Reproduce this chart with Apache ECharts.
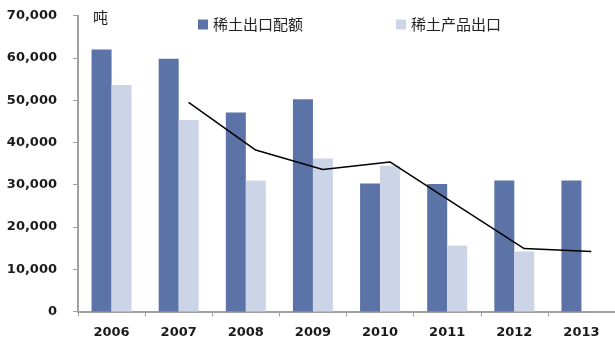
<!DOCTYPE html>
<html>
<head>
<meta charset="utf-8">
<script src="https://cdn.jsdelivr.net/npm/echarts@6/dist/echarts.min.js"></script>
<style>
  html, body { margin: 0; padding: 0; background: #fff; }
  #main { width: 615px; height: 353px; }
</style>
</head>
<body>
<div id="main"></div>
<script>
const years = ['2006', '2007', '2008', '2009', '2010', '2011', '2012', '2013']
const quota = [62000, 59800, 47100, 50200, 30300, 30200, 31000, 31000]
const exportsVol = [53600, 45300, 31000, 36200, 34500, 15600, 14200, null]
// trend line (sits over the light bars)
const trend = [null, 49500, 38200, 33600, 35400, 25100, 14900, 14200]

const chart = echarts.init(document.getElementById('main'))

// light bar centre sits this far right of the category centre (in category units)
const lightOffset = 0.147

const trendData = []
trend.forEach((v, i) => {
  if (v != null) trendData.push([i + 0.5 + lightOffset, v])
})

const option = {
  animation: false,
  grid: { left: 78, right: -9, top: 15.7, bottom: 41.5 },
  legend: {
    top: 12,
    left: 193,
    itemWidth: 10,
    itemHeight: 10,
    itemGap: 93,
    icon: 'rect',
    textStyle: { fontFamily: 'Noto Sans CJK SC', fontSize: 15, color: '#222' },
    data: ['稀土出口配额', '稀土产品出口']
  },
  graphic: [{
    type: 'text',
    left: 93,
    top: 10,
    style: { text: '吨', font: '15px "Noto Sans CJK SC"', fill: '#222' }
  }],
  xAxis: [{
    type: 'category',
    data: years,
    axisLine: { lineStyle: { color: '#a0a0a0', width: 2 } },
    axisTick: { show: true, length: 5, lineStyle: { color: '#a0a0a0' } },
    axisLabel: {
      margin: 15,
      fontFamily: 'DejaVu Sans',
      fontWeight: 'bold',
      fontSize: 13,
      color: '#1a1a1a'
    }
  }, {
    type: 'value',
    min: 0,
    max: 8,
    show: false
  }],
  yAxis: {
    type: 'value',
    min: 0,
    max: 70000,
    interval: 10000,
    splitLine: { show: false },
    axisLine: { show: true, lineStyle: { color: '#a0a0a0', width: 2 } },
    axisTick: { show: true, length: 5, lineStyle: { color: '#a0a0a0' } },
    axisLabel: {
      margin: 21,
      fontFamily: 'DejaVu Sans',
      fontWeight: 'bold',
      fontSize: 13,
      color: '#1a1a1a',
      formatter: v => v.toLocaleString('en-US')
    }
  },
  series: [
    {
      name: '稀土出口配额',
      type: 'bar',
      data: quota,
      barWidth: 20,
      barGap: '0%',
      itemStyle: { color: '#5b73a7' }
    },
    {
      name: '稀土产品出口',
      type: 'bar',
      data: exportsVol,
      barWidth: 20,
      itemStyle: { color: '#ccd5e7' }
    },
    {
      name: 'trend',
      type: 'line',
      xAxisIndex: 1,
      data: trendData,
      symbol: 'none',
      lineStyle: { color: '#000', width: 1.5 },
      z: 5
    }
  ]
}
chart.setOption(option)
</script>
</body>
</html>
